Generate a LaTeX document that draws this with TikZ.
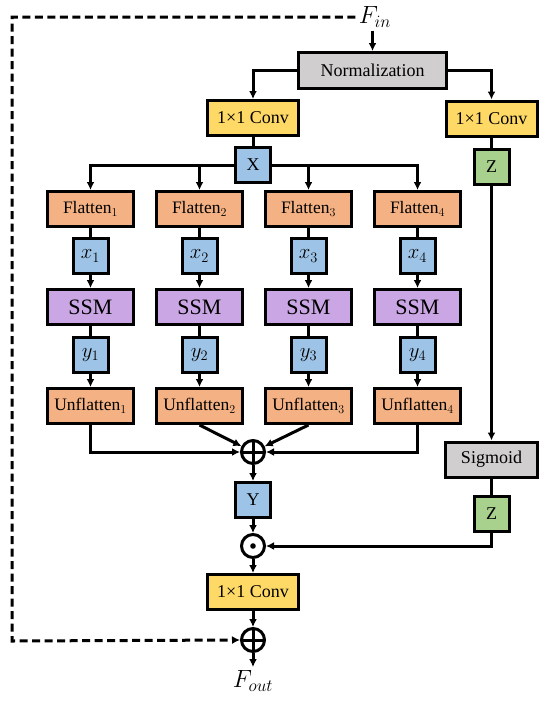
\documentclass[tikz,border=0pt]{standalone}
\usepackage{fontspec}
\setmainfont{Liberation Serif}
\usepackage{tikz}
\usetikzlibrary{positioning, arrows.meta, calc}
\usepackage{xcolor}

\definecolor{flatorange}{HTML}{F4B183}
\definecolor{varblue}{HTML}{9DC3E6}
\definecolor{ssmpurple}{HTML}{CBA6E4}
\definecolor{convyellow}{HTML}{FFD966}
\definecolor{gategreen}{HTML}{A9D18E}
\definecolor{normgray}{HTML}{D0CECE}

\begin{document}
\begin{tikzpicture}[
  x=1pt, y=-1pt,
  line width=3pt,
  block/.style={
    rectangle,
    draw,
    inner sep=0pt,
    minimum height=35pt,
    font=\fontsize{18}{20}\selectfont
  },
  flat/.style={block, fill=flatorange, minimum width=86pt, font=\fontsize{17.5}{20}\selectfont},
  ssm/.style={block, fill=ssmpurple, minimum width=86pt, font=\fontsize{22}{24}\selectfont},
  var/.style={block, fill=varblue, minimum width=35pt, font=\fontsize{21}{22}\selectfont},
  gate/.style={block, fill=gategreen, minimum width=35pt},
  conv/.style={block, fill=convyellow, minimum width=91pt},
  grey/.style={block, fill=normgray},
  op/.style={circle, draw, fill=white, minimum size=23pt, inner sep=0pt},
  plus/.style={op, path picture={
    \draw (path picture bounding box.north) -- (path picture bounding box.south)
          (path picture bounding box.west) -- (path picture bounding box.east);}},
  dot/.style={op, path picture={
    \fill[black] (path picture bounding box.center) circle (2.8pt);}},
  io/.style={inner sep=2pt, font=\fontsize{25}{27}\selectfont},
  arrow/.style={-{Latex[length=8pt, width=8pt]}},
  skip/.style={arrow, dashed, dash pattern=on 8pt off 4.5pt}
]
  \useasboundingbox (0,0) rectangle (550,713);

  % Nodes
  \node (Fin)  [io] at (375,17) {$F_{in}$};
  \node (norm) [grey, minimum width=148pt, minimum height=36pt] at (372.5,70.5) {Normalization};

  \node (convL) [conv] at (253,118) {1×1 Conv};
  \node (X)     [var, font=\fontsize{18}{20}\selectfont, below=9pt of convL] {X};

  \node (convR) [conv] at (491.5,118.5) {1×1 Conv};
  \node (Z)     [gate, below=10pt of convR] {Z};

  \foreach \i in {1,...,4} {
    \node (f\i)   [flat] at ({90.5+(\i-1)*109},209) {Flatten$_\i$};
    \node (x\i)   [var, below=9pt of f\i]   {$x_\i$};
    \node (ssm\i) [ssm, below=13pt of x\i]  {SSM};
    \node (y\i)   [var, below=10pt of ssm\i] {$y_\i$};
    \node (u\i)   [flat, below=13pt of y\i] {Unflatten$_\i$};
  }

  \node (sum)   [plus] at (253,452) {};
  \node (Y)     [var, font=\fontsize{18}{20}\selectfont, below=16pt of sum] {Y};
  \node (gate)  [dot, below=14pt of Y] {};
  \node (convO) [conv, below=14pt of gate] {1×1 Conv};
  \node (res)   [plus, below=16pt of convO] {};
  \node (Fout)  [io, below=14pt of res] {$F_{out}$};

  \node (sig) [grey, minimum width=92pt] at (491.5,459.5) {Sigmoid};
  \node (Z2)  [gate, below=16pt of sig] {Z};

  \coordinate (loop) at (12,641);

  % Arrows
  \draw [arrow] (Fin.south -| norm.north) -- (norm.north);
  \draw [arrow] (norm.west) -| (convL.north);
  \draw [arrow] (norm.east) -| (convR.north);
  \draw (convL) -- (X);
  \draw (convR) -- (Z);

  \draw [arrow] (X.west) -| (f1.north);
  \draw [arrow] (X.west) -| (f2.north);
  \draw [arrow] (X.east) -| (f3.north);
  \draw [arrow] (X.east) -| (f4.north);

  \foreach \i in {1,...,4} {
    \draw (f\i) -- (x\i);
    \draw [arrow] (x\i) -- (ssm\i);
    \draw (ssm\i) -- (y\i);
    \draw [arrow] (y\i) -- (u\i);
  }

  \draw [arrow] (u1.south) |- (sum.west);
  \draw [arrow] (u2.south) -- (sum);
  \draw [arrow] (u3.south) -- (sum);
  \draw [arrow] (u4.south) |- (sum.east);

  \draw [arrow] (sum) -- (Y);
  \draw [arrow] (Y) -- (gate);
  \draw [arrow] (gate) -- (convO);
  \draw [arrow] (convO) -- (res);
  \draw [arrow] (res) -- (Fout);

  \draw [arrow] (Z) -- (sig);
  \draw (sig) -- (Z2);
  \draw [arrow] (Z2.south) |- (gate.east);

  \draw [skip] (Fin.west) -| (loop) -- (res.west);

\end{tikzpicture}
\end{document}
